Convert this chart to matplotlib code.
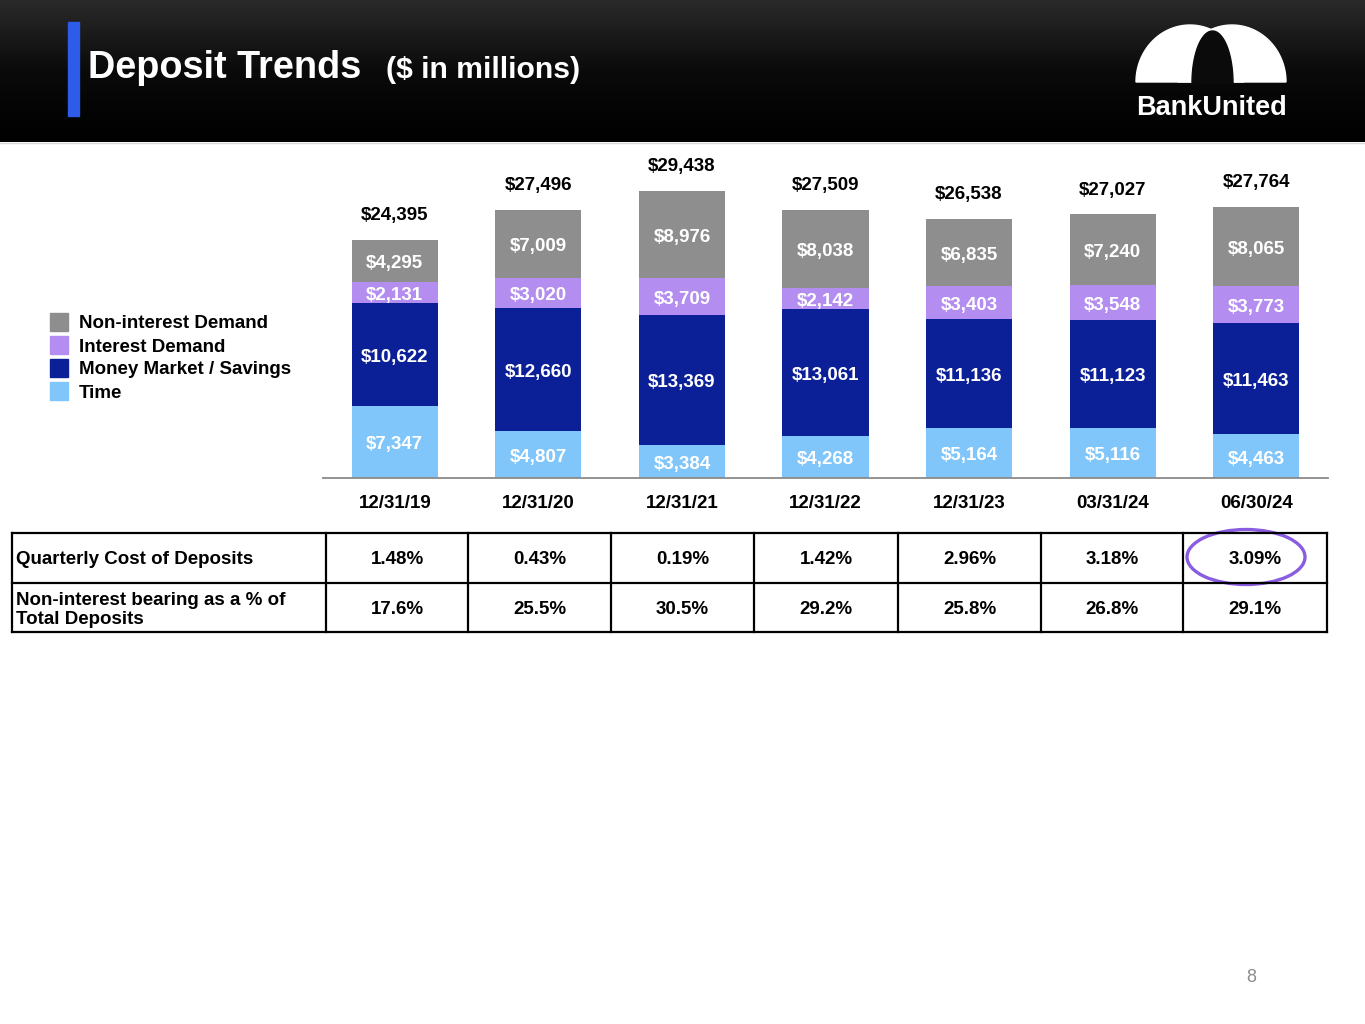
import numpy as np
import matplotlib.pyplot as plt
from matplotlib.patches import Rectangle, Ellipse, Polygon
from matplotlib.colors import LinearSegmentedColormap

plt.rcParams['font.family'] = ['Liberation Sans', 'DejaVu Sans']

# data
dates = ['12/31/19', '12/31/20', '12/31/21', '12/31/22', '12/31/23', '03/31/24', '06/30/24']
time_dep = [7347, 4807, 3384, 4268, 5164, 5116, 4463]
money_market = [10622, 12660, 13369, 13061, 11136, 11123, 11463]
interest_demand = [2131, 3020, 3709, 2142, 3403, 3548, 3773]
non_interest = [4295, 7009, 8976, 8038, 6835, 7240, 8065]
cost_of_deposits = ['1.48%', '0.43%', '0.19%', '1.42%', '2.96%', '3.18%', '3.09%']
non_int_pct = ['17.6%', '25.5%', '30.5%', '29.2%', '25.8%', '26.8%', '29.1%']

series = [time_dep, money_market, interest_demand, non_interest]
names = ['Time', 'Money Market / Savings', 'Interest Demand', 'Non-interest Demand']
colors = ['#80C6FA', '#0B1F96', '#B38DF0', '#8E8E8E']

W, H = 1365, 1024
fig = plt.figure(figsize=(W / 100, H / 100), dpi=100)

# background axes in pixel coordinates
bg = fig.add_axes([0, 0, 1, 1])
bg.axis('off')

# header band
cmap = LinearSegmentedColormap.from_list('hdr', ['#2a2a2a', '#0a0a0a', '#000000'])
grad = np.linspace(0, 1, 200).reshape(-1, 1)
bg.imshow(grad, cmap=cmap, extent=(0, W, 142, 0), aspect='auto', zorder=0)
bg.set_xlim(0, W)
bg.set_ylim(H, 0)
bg.plot([0, W], [142.5, 142.5], color='#d8d8d8', lw=1, zorder=1)
bg.add_patch(Rectangle((68, 22), 11, 94, color='#2E5BE8', zorder=2))
bg.text(88, 78, 'Deposit Trends', color='white', fontsize=27.3, fontweight='bold', va='baseline', zorder=2)
bg.text(386, 78, '($ in millions)', color='white', fontsize=21.7, fontweight='bold', va='baseline', zorder=2)

# logo: two overlapping arches with a dark opening
t = np.linspace(0, np.pi, 100)
left_arch = np.column_stack([1190 + 54 * np.cos(t), 82 - 57 * np.sin(t)])
right_arch = np.column_stack([1232 + 54 * np.cos(t), 82 - 57 * np.sin(t)])
inner = np.column_stack([1212.5 + 20.5 * np.cos(t), 83 - 52 * np.sin(t)])
bg.add_patch(Polygon(left_arch, closed=True, color='white', zorder=3))
bg.add_patch(Polygon(right_arch, closed=True, color='white', zorder=3))
bg.add_patch(Polygon(inner, closed=True, color='#0b0b0b', zorder=4))
bg.text(1211, 108, 'BankUnited', color='white', fontsize=19.5, fontweight='bold', ha='center', va='center', zorder=3)

# legend
for i, k in enumerate([3, 2, 1, 0]):
    bg.add_patch(Rectangle((50, 313 + 23 * i), 18, 18, color=colors[k]))
    bg.text(79, 324 + 23 * i, names[k], fontsize=13.5, fontweight='bold', va='center')

# stacked bars
ax = fig.add_axes([323 / W, (H - 478) / H, 1005 / W, 328 / H])
ax.patch.set_alpha(0)
x = np.arange(len(dates))
bottom = np.zeros(len(dates))
for vals, col in zip(series, colors):
    vals = np.array(vals)
    ax.bar(x, vals, 0.6, bottom=bottom, color=col, zorder=2)
    for i, v in enumerate(vals):
        ax.annotate(f'${v:,}', (x[i], bottom[i] + v / 2), xytext=(0, -2), textcoords='offset points',
                    ha='center', va='center', color='white', fontsize=13.5, fontweight='bold', zorder=3)
    bottom += vals
for i, tot in enumerate(bottom):
    ax.annotate(f'${int(tot):,}', (x[i], tot), xytext=(0, 17.5), textcoords='offset points',
                ha='center', va='center', fontsize=13.5, fontweight='bold')
ax.set_xlim(-0.5, 6.5)
ax.set_ylim(0, 33640)
ax.set_xticks(x, dates, fontsize=13.5, fontweight='bold')
ax.tick_params(axis='x', length=0, pad=12)
ax.set_yticks([])
for s in ['top', 'left', 'right']:
    ax.spines[s].set_visible(False)
ax.spines['bottom'].set_color('#8a8a8a')
ax.spines['bottom'].set_linewidth(1.3)

# table
col_edges = [12, 326, 468, 611, 754, 898, 1041, 1183, 1327]
row_edges = [533, 583, 632]
for y in row_edges:
    bg.plot([col_edges[0], col_edges[-1]], [y, y], color='black', lw=1.6)
for xe in col_edges:
    bg.plot([xe, xe], [row_edges[0], row_edges[-1]], color='black', lw=1.6)
bg.text(16, 560, 'Quarterly Cost of Deposits', fontsize=13.5, fontweight='bold', va='center')
bg.text(16, 610, 'Non-interest bearing as a % of\nTotal Deposits', fontsize=13.5,
        fontweight='bold', va='center', linespacing=1.15)
for j in range(len(dates)):
    cx = (col_edges[j + 1] + col_edges[j + 2]) / 2
    bg.text(cx, 560, cost_of_deposits[j], fontsize=13.5, fontweight='bold', ha='center', va='center')
    bg.text(cx, 610, non_int_pct[j], fontsize=13.5, fontweight='bold', ha='center', va='center')

# highlight on latest quarter
bg.add_patch(Ellipse((1246, 557), 118, 55, fill=False, edgecolor='#8A5CE0', lw=2.4))

bg.text(1251, 977, '8', color='#8c8c8c', fontsize=13, ha='center', va='center')

fig.savefig('out.png', dpi=100)
